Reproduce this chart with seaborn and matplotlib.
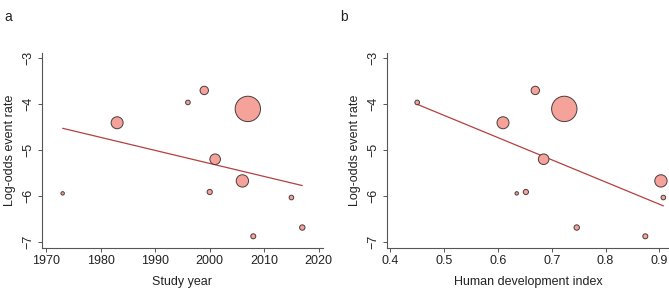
import numpy as np
import pandas as pd
import seaborn as sns
import matplotlib.pyplot as plt

# study-level data
study_year = [1973, 1983, 1996, 1999, 2007, 2001, 2000, 2006, 2015, 2017, 2008]
hdi = [0.635, 0.6095, 0.450, 0.6695, 0.7234, 0.685, 0.652, 0.903, 0.9075, 0.7465, 0.874]
log_odds = [-5.94, -4.41, -3.97, -3.71, -4.11, -5.20, -5.91, -5.67, -6.03, -6.68, -6.87]
weight = [2.9, 36, 5.3, 17.6, 161, 28, 6.8, 38, 5.3, 7.3, 6.3]

# meta-regression fits (x at start, y at start, slope)
fit_year = (1973, -4.53, -0.0282)
fit_hdi = (0.45, -4.01, -4.81)

sns.set_style("ticks")
plt.rcParams["font.family"] = ["Liberation Sans", "DejaVu Sans"]
plt.rcParams["axes.unicode_minus"] = True

df = pd.DataFrame({"year": study_year, "hdi": hdi, "lor": log_odds, "w": weight})

fig = plt.figure(figsize=(6.69, 2.89), dpi=100)
ax1 = fig.add_axes([0.0623, 0.1429, 0.4205, 0.6727])
ax2 = fig.add_axes([0.578, 0.1429, 0.422, 0.6727])

fill = "#F4A29A"
edge = "#4a3c3c"
line_col = "#B5403F"
spine_col = "#555555"
text_col = "#222222"
max_s = 2.07 * max(weight)


def panel(ax, xcol, fit, xlim, xticks, xlabel, letter, letter_x):
    sns.scatterplot(data=df, x=xcol, y="lor", size="w", sizes=(0, max_s),
                    size_norm=(0, max(weight)), color=fill, edgecolor=edge,
                    linewidth=0.7, legend=False, ax=ax, zorder=3)
    xs = np.array([df[xcol].min(), df[xcol].max()])
    ys = fit[1] + fit[2] * (xs - fit[0])
    sns.lineplot(x=xs, y=ys, color=line_col, linewidth=0.9, ax=ax, zorder=2)
    ax.set_xlim(*xlim)
    ax.set_ylim(-7.117, -2.905)
    ax.set_xticks(xticks)
    ax.set_yticks([-3, -4, -5, -6, -7])
    ax.set_yticklabels(["\u22123", "\u22124", "\u22125", "\u22126", "\u22127"],
                       rotation=90, va="center")
    ax.set_xlabel(xlabel, fontsize=9, labelpad=7, color=text_col)
    ax.set_ylabel("Log-odds event rate", fontsize=9, labelpad=5, color=text_col)
    ax.tick_params(labelsize=9, length=3, width=0.7, color=spine_col, pad=2,
                   labelcolor=text_col)
    for s in ["top", "right"]:
        ax.spines[s].set_visible(False)
    for s in ["left", "bottom"]:
        ax.spines[s].set_color(spine_col)
        ax.spines[s].set_linewidth(0.8)
    fig.text(letter_x, 0.965, letter, fontsize=10, va="top", ha="left", color=text_col)


panel(ax1, "year", fit_year, (1969.15, 2020.8), [1970, 1980, 1990, 2000, 2010, 2020],
      "Study year", "a", 0.006)
panel(ax2, "hdi", fit_hdi, (0.3933, 0.918), [0.4, 0.5, 0.6, 0.7, 0.8, 0.9],
      "Human development index", "b", 0.508)

fig.savefig("out.png", dpi=100)
